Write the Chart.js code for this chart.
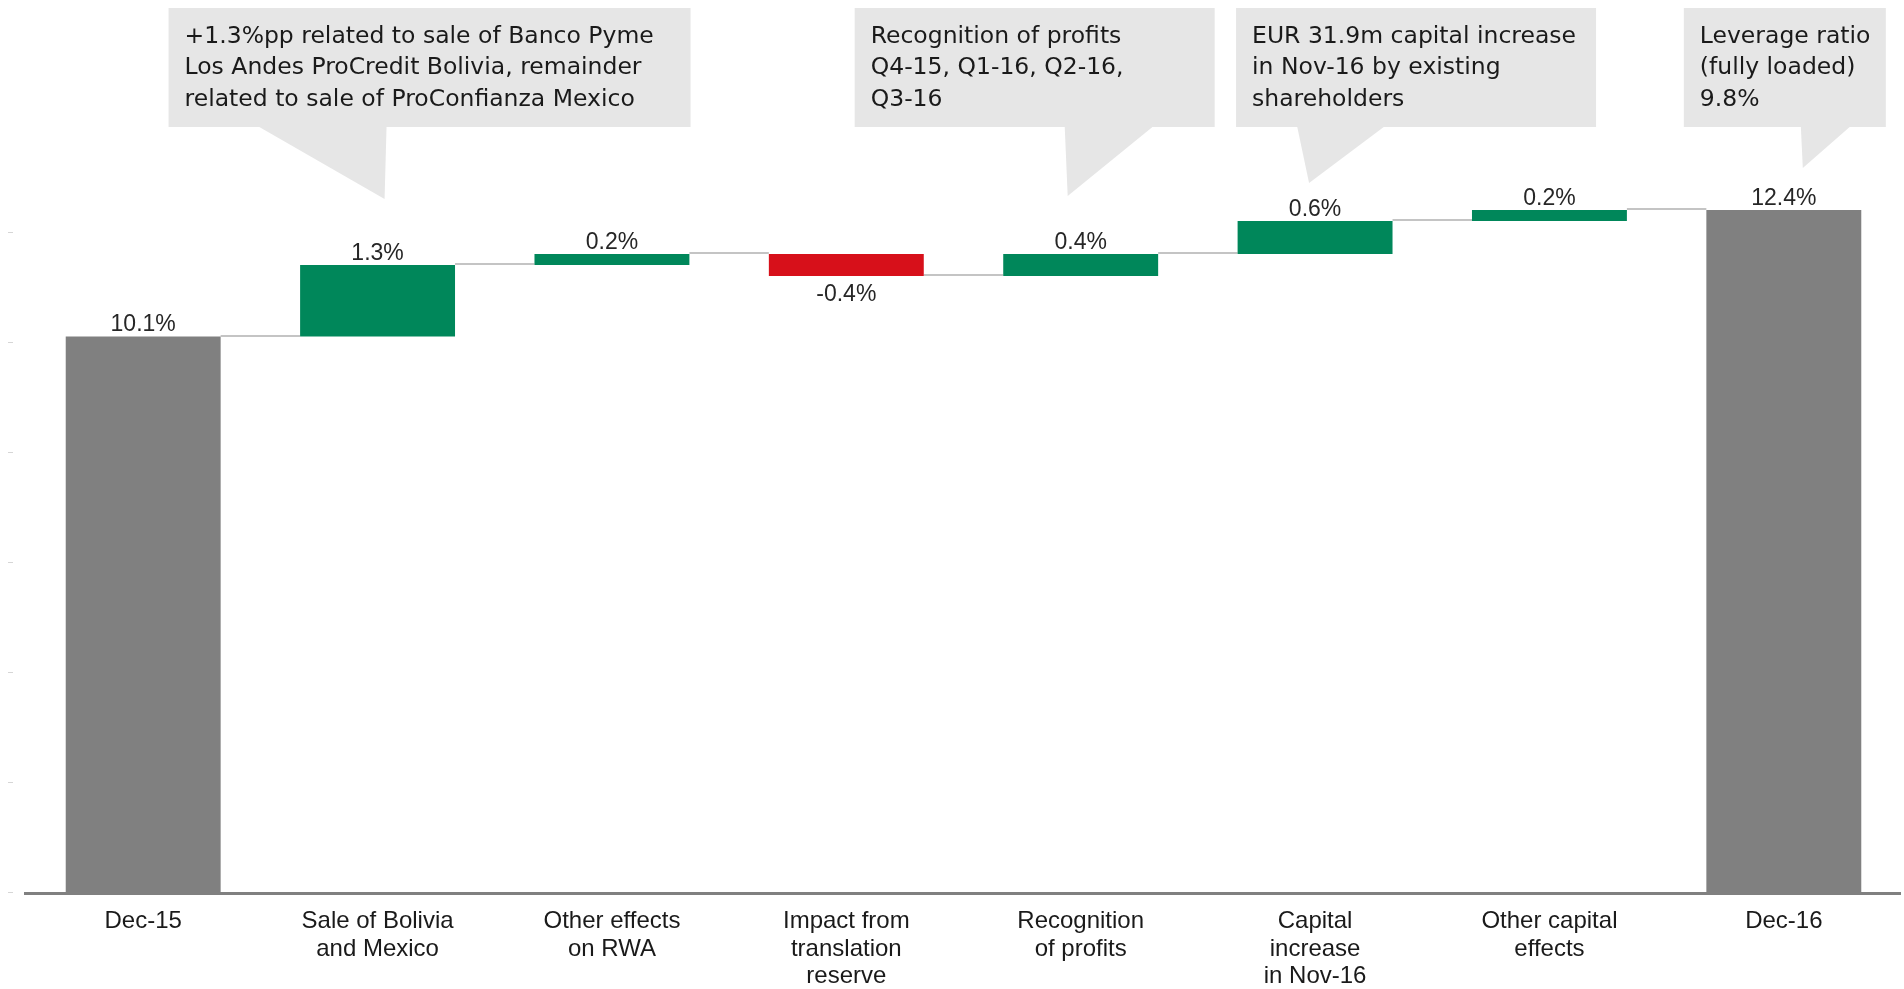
<!DOCTYPE html>
<html>
<head>
<meta charset="utf-8">
<script src="https://cdn.jsdelivr.net/npm/chart.js@4/dist/chart.umd.min.js"></script>
<style>
  html, body { margin: 0; padding: 0; background: #fff; }
  #wrap { width: 1904px; height: 989px; position: relative; }
</style>
</head>
<body>
<div id="wrap"><canvas id="leverage"></canvas></div>
<script>
// leverage ratio bridge Dec-15 -> Dec-16
const categories = [
    ["Dec-15"],
    ["Sale of Bolivia", "and Mexico"],
    ["Other effects", "on RWA"],
    ["Impact from", "translation", "reserve"],
    ["Recognition", "of profits"],
    ["Capital", "increase", "in Nov-16"],
    ["Other capital", "effects"],
    ["Dec-16"],
];
const changes = [10.1, 1.3, 0.2, -0.4, 0.4, 0.6, 0.2, 12.4];
const isTotal = [true, false, false, false, false, false, false, true];
const axisTicks = [0, 2, 4, 6, 8, 10, 12];

const noteTexts = [
    ["+1.3%pp related to sale of Banco Pyme", "Los Andes ProCredit Bolivia, remainder", "related to sale of ProConfianza Mexico"],
    ["Recognition of profits", "Q4-15, Q1-16, Q2-16,", "Q3-16"],
    ["EUR 31.9m capital increase", "in Nov-16 by existing", "shareholders"],
    ["Leverage ratio", "(fully loaded)", "9.8%"],
];
const noteCategory = [1, 4, 5, 7];

// bubble shapes, offsets from the category centre
const noteShapes = [
    { left: -209, right: 313, baseL: -120, baseR: 9, tipX: 7, tipY: 199 },
    { left: -226, right: 134, baseL: -16, baseR: 73, tipX: -13, tipY: 196 },
    { left: -79, right: 281, baseL: -18, baseR: 70, tipX: -6, tipY: 183 },
    { left: -100, right: 102, baseL: 17, baseR: 67, tipX: 19, tipY: 168 },
];

const GREEN = "#00875a";
const RED = "#d7101a";
const GREY = "#808080";

// floating [from, to] ranges for the waterfall
var ranges = [];
var colors = [];
var level = 0;
changes.forEach((v, i) => {
    if (isTotal[i]) {
        ranges.push([0, v]);
        level = v;
        colors.push(GREY);
    } else {
        ranges.push([level, level + v]);
        level = level + v;
        colors.push(v < 0 ? RED : GREEN);
    }
});

const connectors = {
    id: "connectors",
    beforeDatasetsDraw(chart) {
        const ctx = chart.ctx;
        const y = chart.scales.y;
        const bars = chart.getDatasetMeta(0).data;
        ctx.save();
        ctx.strokeStyle = "#c4c4c4";
        ctx.lineWidth = 2;
        for (let i = 0; i < bars.length - 1; i++) {
            const py = Math.round(y.getPixelForValue(ranges[i][1])) - 1;
            ctx.beginPath();
            ctx.moveTo(bars[i].x + bars[i].width / 2, py);
            ctx.lineTo(bars[i + 1].x - bars[i + 1].width / 2, py);
            ctx.stroke();
        }
        ctx.restore();
    },
};

const valueLabels = {
    id: "valueLabels",
    afterDatasetsDraw(chart) {
        const ctx = chart.ctx;
        const y = chart.scales.y;
        const area = chart.chartArea;
        const bars = chart.getDatasetMeta(0).data;
        ctx.save();

        // category axis line
        ctx.strokeStyle = GREY;
        ctx.lineWidth = 3;
        ctx.beginPath();
        ctx.moveTo(area.left - 2, area.bottom + 1.5);
        ctx.lineTo(area.right, area.bottom + 1.5);
        ctx.stroke();

        ctx.font = '23px "Liberation Sans", Arial, sans-serif';
        ctx.fillStyle = "#262626";
        ctx.textAlign = "center";
        ctx.textBaseline = "alphabetic";
        bars.forEach((bar, i) => {
            const txt = changes[i].toFixed(1) + "%";
            const hi = Math.max(ranges[i][0], ranges[i][1]);
            const lo = Math.min(ranges[i][0], ranges[i][1]);
            if (changes[i] < 0) {
                ctx.fillText(txt, bar.x, y.getPixelForValue(lo) + 25);
            } else {
                ctx.fillText(txt, bar.x, y.getPixelForValue(hi) - 5.5);
            }
        });

        // small marks on the value axis
        ctx.strokeStyle = "#d6d6d6";
        ctx.lineWidth = 1;
        axisTicks.forEach((t) => {
            const py = Math.round(y.getPixelForValue(t)) + 0.5;
            ctx.beginPath();
            ctx.moveTo(8, py);
            ctx.lineTo(13, py);
            ctx.stroke();
        });
        ctx.restore();
    },
};

const callouts = {
    id: "callouts",
    afterDraw(chart) {
        const ctx = chart.ctx;
        const x = chart.scales.x;
        const top = 8, bottom = 127;
        ctx.save();
        noteTexts.forEach((lines, n) => {
            const s = noteShapes[n];
            const cx = x.getPixelForValue(noteCategory[n]);
            ctx.fillStyle = "#e6e6e6";
            ctx.fillRect(cx + s.left, top, s.right - s.left, bottom - top);
            ctx.beginPath();
            ctx.moveTo(cx + s.baseL, bottom - 1);
            ctx.lineTo(cx + s.baseR, bottom - 1);
            ctx.lineTo(cx + s.tipX, s.tipY);
            ctx.closePath();
            ctx.fill();

            ctx.fillStyle = "#1a1a1a";
            ctx.font = '23.5px "DejaVu Sans", sans-serif';
            ctx.textAlign = "left";
            ctx.textBaseline = "alphabetic";
            lines.forEach((line, k) => {
                ctx.fillText(line, cx + s.left + 16, 42.5 + k * 31.9);
            });
        });
        ctx.restore();
    },
};

new Chart(document.getElementById("leverage"), {
    type: "bar",
    data: {
        labels: categories,
        datasets: [
            {
                data: ranges,
                backgroundColor: colors,
                borderWidth: 0,
                barPercentage: 0.661,
                categoryPercentage: 1,
            },
        ],
    },
    options: {
        responsive: true,
        maintainAspectRatio: false,
        animation: false,
        layout: { padding: { top: 12, left: 26, right: 3, bottom: 0 } },
        plugins: {
            legend: { display: false },
            tooltip: { enabled: false },
        },
        scales: {
            x: {
                grid: { display: false, drawTicks: false },
                border: { display: false },
                ticks: {
                    color: "#1a1a1a",
                    font: { family: '"Liberation Sans", Arial, sans-serif', size: 24, lineHeight: 1.14 },
                    padding: 16,
                    maxRotation: 0,
                    autoSkip: false,
                },
                afterFit: (scale) => {
                    scale.height = 97;
                },
            },
            y: {
                display: false,
                min: 0,
                max: 16,
            },
        },
    },
    plugins: [connectors, valueLabels, callouts],
});
</script>
</body>
</html>
